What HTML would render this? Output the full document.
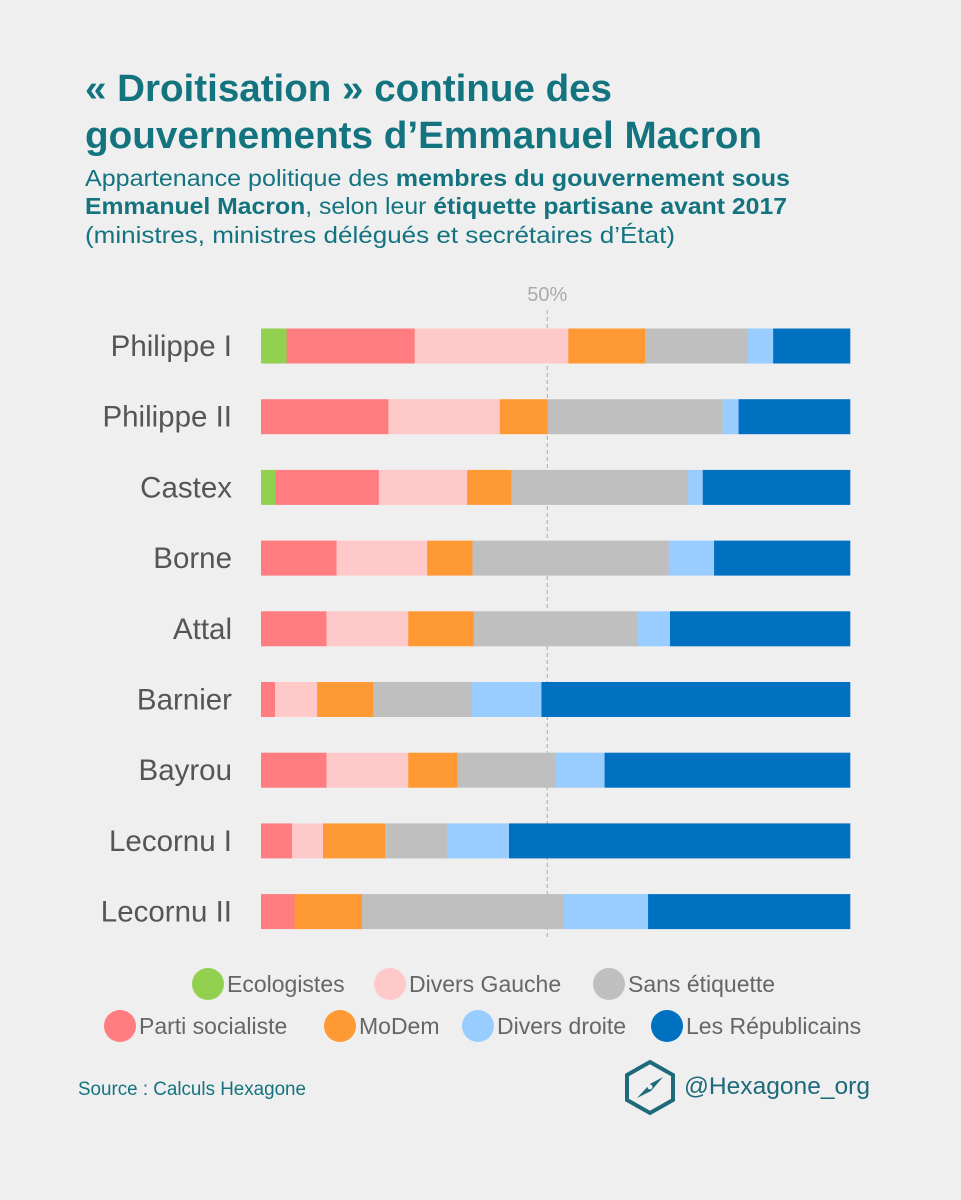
<!DOCTYPE html>
<html><head><meta charset="utf-8"><style>
html,body{margin:0;padding:0;background:#efefef;}
svg{display:block;font-family:"Liberation Sans",sans-serif;}
</style></head><body>
<svg id="chart" width="961" height="1200" viewBox="0 0 961 1200" xmlns="http://www.w3.org/2000/svg">
<rect width="961" height="1200" fill="#efefef"/>
<g fill="#137480" font-weight="bold" font-size="38">
<text x="85" y="101" textLength="527" lengthAdjust="spacingAndGlyphs">« Droitisation » continue des</text>
<text x="85" y="148" textLength="677" lengthAdjust="spacingAndGlyphs">gouvernements d’Emmanuel Macron</text>
</g>
<g fill="#137480" font-size="23">
<text x="85" y="186" textLength="705" lengthAdjust="spacingAndGlyphs">Appartenance politique des <tspan font-weight="bold">membres du gouvernement sous</tspan></text>
<text x="85" y="214" textLength="702" lengthAdjust="spacingAndGlyphs"><tspan font-weight="bold">Emmanuel Macron</tspan>, selon leur <tspan font-weight="bold">étiquette partisane avant 2017</tspan></text>
<text x="85" y="243" textLength="590" lengthAdjust="spacingAndGlyphs">(ministres, ministres délégués et secrétaires d’État)</text>
</g>
<g id="plot"></g>
<g id="legend"></g>
<text x="78" y="1095" font-size="19" fill="#137480" textLength="228" lengthAdjust="spacingAndGlyphs">Source : Calculs Hexagone</text>
<g>
<polygon points="650,1062 673,1075 673,1100 650,1113 627,1100 627,1075" fill="none" stroke="#1d6a7a" stroke-width="4"/>
<polygon points="637,1098 650,1084 663,1077 651,1091" fill="#1d6a7a"/>
<circle cx="650" cy="1087" r="2.5" fill="#efefef"/>
<text x="684" y="1094" font-size="24" fill="#1d6a7a" textLength="186" lengthAdjust="spacingAndGlyphs">@Hexagone_org</text>
</g>
</svg>
<script>
const govs = ["Philippe I","Philippe II","Castex","Borne","Attal","Barnier","Bayrou","Lecornu I","Lecornu II"];
const parties = ["Ecologistes","Parti socialiste","Divers Gauche","MoDem","Sans étiquette","Divers droite","Les Républicains"];
const colors = ["#92d050","#ff7c80","#ffc9c9","#ff9933","#bfbfbf","#99ccff","#0070c0"];
const ecologistes = [1,0,1,0,0,0,0,0,0];
const partiSocialiste = [5,8,7,5,4,1,4,1,2];
const diversGauche = [6,7,6,6,5,3,5,1,0];
const modem = [3,3,3,3,4,4,3,2,4];
const sansEtiquette = [4,11,12,13,10,7,6,2,12];
const diversDroite = [1,1,1,3,2,5,3,2,5];
const republicains = [3,7,10,9,11,22,15,11,12];
const series = [ecologistes,partiSocialiste,diversGauche,modem,sansEtiquette,diversDroite,republicains];
const refValue = 0.486;
const refLabel = "50%";

const NS="http://www.w3.org/2000/svg";
const plot=document.getElementById('plot');
const x0=261,x1=850;
const xs=f=>x0+f*(x1-x0);
const yc=i=>346+i*70.7;
const barH=35;
function mk(tag,attrs,parent){const e=document.createElementNS(NS,tag);for(const k in attrs)e.setAttribute(k,attrs[k]);parent.appendChild(e);return e;}

const rl=mk('line',{x1:xs(refValue),x2:xs(refValue),y1:310,y2:938,stroke:'#aaa','stroke-width':1,'stroke-dasharray':'4,3'},plot);


const rt=mk('text',{x:xs(refValue),y:301,'text-anchor':'middle','font-size':20,fill:'#aaa'},plot);
rt.textContent=refLabel;



govs.forEach((g,i)=>{
  const total=series.reduce((s,a)=>s+a[i],0);
  let acc=0;
  const lab=mk('text',{x:232,y:yc(i)+10,'text-anchor':'end','font-size':29.5,fill:'#555'},plot);
  lab.textContent=g;
  
  
  series.forEach((s,j)=>{
    const v=s[i];
    if(v>0){
      const r=mk('rect',{x:xs(acc/total),y:yc(i)-barH/2,width:xs((acc+v)/total)-xs(acc/total)+0.3,height:barH,fill:colors[j]},plot);
      
      
    }
    acc+=v;
  });
});

const leg=document.getElementById('legend');
const legPos=[[0,208,984],[2,390,984],[4,609,984],[1,120,1026],[3,340,1026],[5,478,1026],[6,667,1026]];
legPos.forEach(([j,cx,cy])=>{
  const c=mk('circle',{cx:cx,cy:cy,r:16,fill:colors[j]},leg);
  
  
  const t=mk('text',{x:cx+19,y:cy+8,'font-size':23,fill:'#666'},leg);
  t.textContent=parties[j];
  
  
});
</script>
</body></html>
